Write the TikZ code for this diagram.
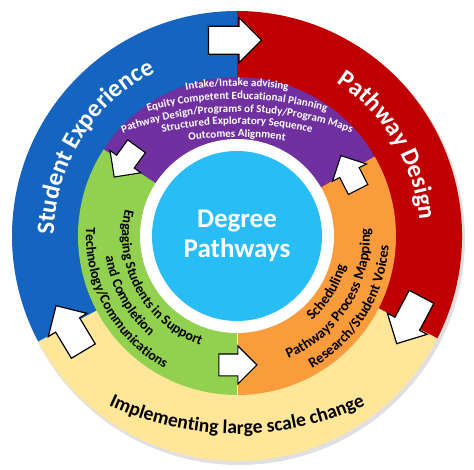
\documentclass[tikz,border=0pt]{standalone}
\usepackage{fontspec}
\setmainfont{Carlito}
\usetikzlibrary{positioning, shapes.arrows, decorations.text}

\definecolor{seblue}{RGB}{20,100,192}
\definecolor{pdred}{RGB}{192,0,0}
\definecolor{chyellow}{RGB}{255,230,153}
\definecolor{plpurple}{RGB}{112,48,160}
\definecolor{spgreen}{RGB}{146,208,80}
\definecolor{schorange}{RGB}{250,155,60}
\definecolor{hubblue}{RGB}{40,190,245}

\begin{document}
\begin{tikzpicture}[x=1pt, y=1pt,
    bigarrow/.style={single arrow, draw=black, line width=1.2pt, fill=white, minimum height=53pt, minimum width=45pt, inner xsep=2pt, inner ysep=11pt, single arrow tip angle=90},
    smallarrow/.style={single arrow, draw=black, line width=1.1pt, fill=white, minimum height=38pt, minimum width=38pt, inner xsep=2pt, inner ysep=9pt, single arrow tip angle=90},
    ringtext/.style={decorate, decoration={text along path, text align=center}}]
    \useasboundingbox (-237,-234) rectangle (237,236);

    % outer ring
    \fill[black!12] (2,-3) circle (226);
    \fill[seblue] (0,0) -- (90:225) arc[start angle=90, end angle=208, radius=225] -- cycle;
    \fill[chyellow] (0,0) -- (208:225) arc[start angle=208, end angle=333, radius=225] -- cycle;
    \fill[pdred] (0,0) -- (-27:225) arc[start angle=-27, end angle=90, radius=225] -- cycle;

    % middle ring
    \fill[plpurple] (0,0) -- (30:159) arc[start angle=30, end angle=147, radius=159] -- cycle;
    \fill[spgreen] (0,0) -- (147:159) arc[start angle=147, end angle=270, radius=159] -- cycle;
    \fill[schorange] (0,0) -- (270:159) arc[start angle=270, end angle=390, radius=159] -- cycle;
    \draw[white!85!schorange, line width=0.7pt] (0,0) -- (270:159);

    \node[circle, fill=white, minimum size=194pt] (rim) at (0,0) {};
    \node[circle, fill=hubblue, minimum size=170pt, text=white, align=center, font=\bfseries\fontsize{27}{30}\selectfont] (hub) at (0,0) {Degree\\Pathways};

    % outer labels
    \path[ringtext, decoration={text color=white, text={|\bfseries\fontsize{25}{25}\selectfont|Student Experience}}] (208:183) arc[start angle=208, end angle=88, radius=183];
    \path[ringtext, decoration={text color=white, text={|\bfseries\fontsize{25}{25}\selectfont|Pathway Design}}] (91:183) arc[start angle=91, end angle=-29, radius=183];
    \path[ringtext, decoration={text color=black, text={|\bfseries\fontsize{19.5}{20}\selectfont|Implementing large scale change}}] ([shift={(235:300)}]0,102) arc[start angle=235, end angle=305, radius=300];

    % purple lines
    \path[ringtext, decoration={text color=white, text={|\bfseries\fontsize{11}{12}\selectfont|Intake/Intake advising}}] ([shift={(120:320)}]0,-170) arc[start angle=120, end angle=60, radius=320];
    \path[ringtext, decoration={text color=white, text={|\bfseries\fontsize{11}{12}\selectfont|Equity Competent Educational Planning}}] ([shift={(120:320)}]0,-183) arc[start angle=120, end angle=60, radius=320];
    \path[ringtext, decoration={text color=white, text={|\bfseries\fontsize{11}{12}\selectfont|Pathway Design/Programs of Study/Program Maps}}] ([shift={(120:320)}]0,-196) arc[start angle=120, end angle=60, radius=320];
    \path[ringtext, decoration={text color=white, text={|\bfseries\fontsize{11}{12}\selectfont|Structured Exploratory Sequence}}] ([shift={(120:320)}]0,-208) arc[start angle=120, end angle=60, radius=320];
    \path[ringtext, decoration={text color=white, text={|\bfseries\fontsize{11}{12}\selectfont|Outcomes Alignment}}] ([shift={(120:320)}]0,-221) arc[start angle=120, end angle=60, radius=320];

    % green lines
    \path[ringtext, decoration={text color=black, text={|\bfseries\fontsize{14}{15}\selectfont|Engaging Students in Support}}] (139:115) arc[start angle=139, end angle=279, radius=115];
    \path[ringtext, decoration={text color=black, text={|\bfseries\fontsize{14}{15}\selectfont|and Completion}}] (139:133) arc[start angle=139, end angle=279, radius=133];
    \path[ringtext, decoration={text color=black, text={|\bfseries\fontsize{14}{15}\selectfont|Technology/Communications}}] (139:151) arc[start angle=139, end angle=279, radius=151];

    % orange lines
    \path[ringtext, decoration={text color=black, text={|\bfseries\fontsize{14.5}{15}\selectfont|Scheduling}}] (-102:113) arc[start angle=-102, end angle=38, radius=113];
    \path[ringtext, decoration={text color=black, text={|\bfseries\fontsize{14.5}{15}\selectfont|Pathways Process Mapping}}] (-102:133) arc[start angle=-102, end angle=38, radius=133];
    \path[ringtext, decoration={text color=black, text={|\bfseries\fontsize{14.5}{15}\selectfont|Research/Student Voices}}] (-102:152) arc[start angle=-102, end angle=38, radius=152];

    % arrows
    \node[bigarrow, rotate=0] (arrTop) at (92.6:196) {};
    \node[bigarrow, rotate=-118] (arrRight) at (-24:192) {};
    \node[bigarrow, rotate=121] (arrLeft) at (211:191) {};
    \node[smallarrow, rotate=234] (arrPG) at (144:134) {};
    \node[smallarrow, rotate=0] (arrGO) at (268:129) {};
    \node[smallarrow, rotate=117] (arrOP) at (27:129) {};
\end{tikzpicture}
\end{document}
